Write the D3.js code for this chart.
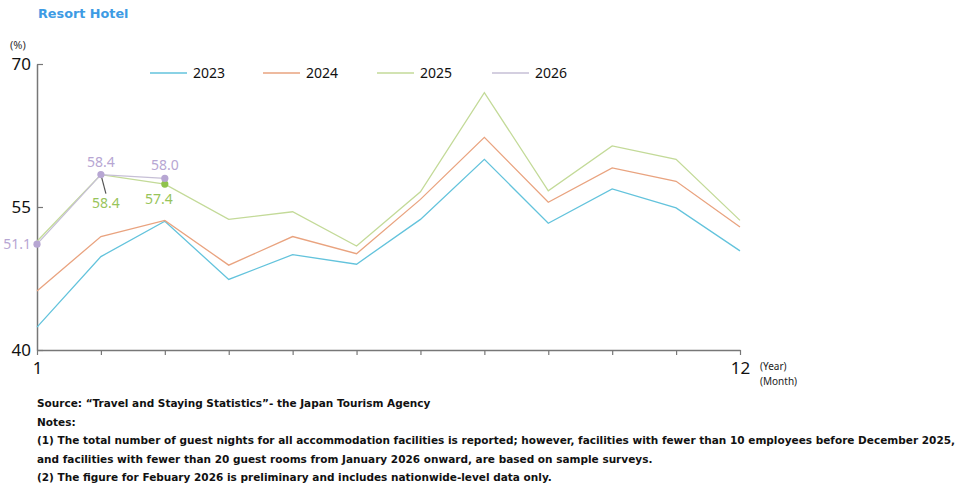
<!DOCTYPE html>
<html lang="en">
<head>
    <meta charset="UTF-8">
    <title>Resort Hotel</title>
    <script src="https://cdn.jsdelivr.net/npm/d3@7"></script>
    <style>
        body{ margin:0; background:#fff; }
        svg{ display:block; }
        .note{ font-family:"DejaVu Sans",Verdana,sans-serif; font-weight:bold; font-size:10.5px; fill:#111; }
        .num{ font-family:"Noto Sans","Open Sans",sans-serif; }
    </style>
</head>
<body>
</body>
<script type="text/javascript">

    let months = [1,2,3,4,5,6,7,8,9,10,11,12];
    let years = ["2023","2024","2025","2026"];
    let v2023 = [42.4,49.8,53.5,47.4,50.0,49.0,53.7,60.0,53.3,56.9,54.9,50.4];
    let v2024 = [46.2,51.9,53.6,48.9,51.9,50.1,55.8,62.3,55.5,59.1,57.7,52.9];
    let v2025 = [51.4,58.4,57.4,53.7,54.5,50.9,56.6,67.0,56.7,61.4,60.0,53.6];
    let v2026 = [51.1,58.4,58.0];
    let yTicks = [40,55,70];
    let notes = [
        "Source: \u201cTravel and Staying Statistics\u201d- the Japan Tourism Agency",
        "Notes:",
        "(1) The total number of guest nights for all accommodation facilities is reported; however, facilities with fewer than 10 employees before December 2025,",
        "and facilities with fewer than 20 guest rooms from January 2026 onward, are based on sample surveys.",
        "(2) The figure for Febuary 2026 is preliminary and includes nationwide-level data only."
    ];

    let colors = {"2023":"#63c3dc","2024":"#e9a37f","2025":"#c3da98","2026":"#c6bfd6"};
    let series = [v2023,v2024,v2025,v2026];

    let width = 964, height = 491;
    let svg = d3.select("body").append("svg")
        .attr("width",width).attr("height",height);

    let x = d3.scaleLinear().domain([1,12]).range([37,740]);
    let y = d3.scaleLinear().domain([40,70]).range([350,64]);

    // title
    svg.append("text")
        .attr("x",38).attr("y",18)
        .attr("font-family","DejaVu Sans,Verdana,sans-serif")
        .attr("font-weight","bold").attr("font-size",12.8)
        .attr("fill","#3d9be4")
        .text("Resort Hotel");

    svg.append("text").attr("class","num")
        .attr("x",10).attr("y",49).attr("font-size",11).attr("fill","#333")
        .text("(%)");

    // axes
    let yAxis = d3.axisLeft(y).tickValues(yTicks).tickSize(-6).tickPadding(12).tickSizeOuter(0);
    let yg = svg.append("g").attr("transform","translate(37,0)").call(yAxis);
    yg.select(".domain").attr("stroke","#777").attr("stroke-width",1.5);
    yg.selectAll(".tick line").attr("stroke","#777").attr("stroke-width",1.2);
    yg.selectAll(".tick text").attr("class","num").attr("font-size",17).attr("fill","#111").attr("x",-6);

    let xAxis = d3.axisBottom(x).tickValues(months).tickSize(5).tickSizeOuter(0)
        .tickFormat(d => (d===1||d===12) ? d : "");
    let xg = svg.append("g").attr("transform","translate(0,350)").call(xAxis);
    xg.select(".domain").attr("stroke","#777").attr("stroke-width",1.5);
    xg.selectAll(".tick line").attr("stroke","#777").attr("stroke-width",1.2);
    xg.selectAll(".tick text").attr("class","num").attr("font-size",17).attr("fill","#111").attr("dy","0.95em");

    svg.append("text").attr("class","num").attr("x",760).attr("y",370)
        .attr("font-size",10).attr("fill","#222").text("(Year)");
    svg.append("text").attr("class","num").attr("x",760).attr("y",385)
        .attr("font-size",10).attr("fill","#222").text("(Month)");

    // lines
    let line = d3.line()
        .x((d,i) => x(months[i]))
        .y(d => y(d));
    svg.selectAll(".series")
        .data(series)
        .enter().append("path")
        .attr("class","series")
        .attr("fill","none")
        .attr("stroke",(d,i) => colors[years[i]])
        .attr("stroke-width",1.3)
        .attr("d",line);

    // legend
    let legX = [150,263,377,492];
    years.forEach((yr,i) => {
        svg.append("line")
            .attr("x1",legX[i]).attr("x2",legX[i]+37)
            .attr("y1",73).attr("y2",73)
            .attr("stroke",colors[yr]).attr("stroke-width",1.3);
        svg.append("text").attr("class","num")
            .attr("x",legX[i]+43).attr("y",78)
            .attr("font-size",14).attr("fill","#111")
            .text(yr);
    });

    // leader line for Feb 2025 label
    svg.append("line")
        .attr("x1",x(2)).attr("y1",y(v2025[1]))
        .attr("x2",x(2)+5).attr("y2",y(v2025[1])+19)
        .attr("stroke","#555").attr("stroke-width",1.2);

    // markers and labels
    let purple = "#b7a6d3", green = "#98c45a";
    svg.append("circle").attr("cx",x(3)).attr("cy",y(v2025[2])).attr("r",3.6).attr("fill","#8fc24c");
    v2026.forEach((v,i) => {
        svg.append("circle").attr("cx",x(months[i])).attr("cy",y(v)).attr("r",3.6).attr("fill",purple);
    });

    let lab = (tx,ty,t,c,anchor) => svg.append("text").attr("class","num")
        .attr("x",tx).attr("y",ty).attr("font-size",14).attr("fill",c)
        .attr("text-anchor",anchor||"middle").text(t);

    lab(x(1)-6, y(v2026[0])+5, v2026[0].toFixed(1), purple, "end");
    lab(x(2), y(v2026[1])-8, v2026[1].toFixed(1), purple);
    lab(x(3), y(v2026[2])-8, v2026[2].toFixed(1), purple);
    lab(x(2)+5, y(v2025[1])+33, v2025[1].toFixed(1), green);
    lab(x(3)-6, y(v2025[2])+20, v2025[2].toFixed(1), green);

    // notes: same squeeze for every line, taken from the longest one
    let noteY = [407,426,444,463,481];
    let noteEls = notes.map((t,i) => svg.append("text").attr("class","note")
        .attr("x",37).attr("y",noteY[i]).text(t));
    let k = 918 / noteEls[2].node().getComputedTextLength();
    noteEls.forEach(el => {
        el.attr("textLength", el.node().getComputedTextLength()*k)
          .attr("lengthAdjust","spacingAndGlyphs");
    });
</script>
</html>
